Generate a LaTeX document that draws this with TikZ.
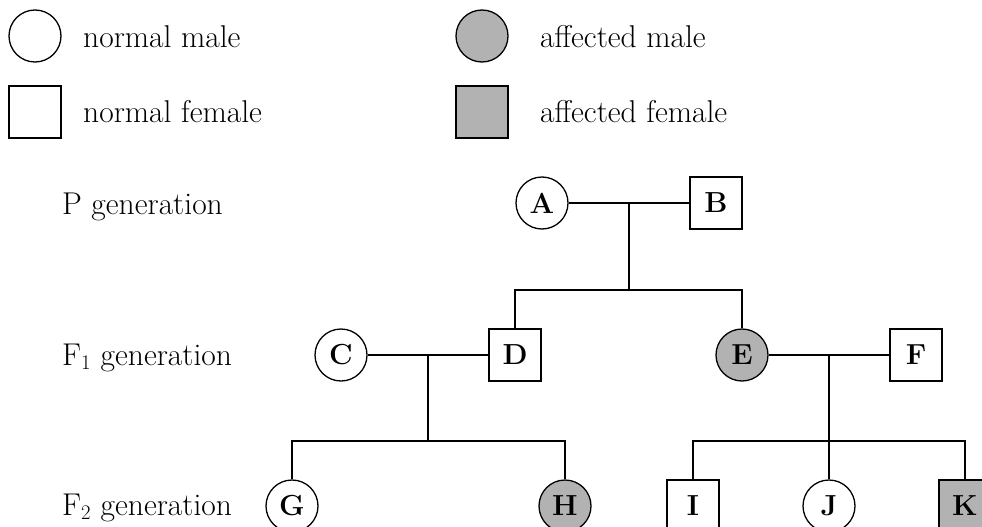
\documentclass[tikz,border=0pt]{standalone}
\begin{document}
\begin{tikzpicture}[x=1pt,y=-1pt,
  every node/.style={font=\fontsize{31.5}{36}\selectfont},
  male/.style={circle,draw,line width=1.3pt,minimum size=52pt,inner sep=0pt,font=\fontsize{29}{34}\selectfont\bfseries},
  female/.style={rectangle,draw,line width=1.3pt,minimum size=52pt,inner sep=0pt,font=\fontsize{29}{34}\selectfont\bfseries},
  aff/.style={fill=affgray},
  lbl/.style={anchor=base west,inner sep=0pt},
  link/.style={line width=1.3pt}]
\definecolor{affgray}{RGB}{178,178,178}
\useasboundingbox (0,0) rectangle (982,527);
\clip (0,0) rectangle (982,527);
% legend
\node[male] (lm) at (35,36) {};
\node[lbl] (lmt) at (83,48) {normal male};
\node[female] (lf) at (35,112) {};
\node[lbl] (lft) at (83,122) {normal female};
\node[male,aff] (lam) at (482,36) {};
\node[lbl] (lamt) at (540,48) {affected male};
\node[female,aff] (laf) at (482,112) {};
\node[lbl] (laft) at (540,122) {affected female};
% generation labels
\node[lbl] (pg) at (62,214) {P generation};
\node[lbl] (f1) at (62,365) {F$_1$ generation};
\node[lbl] (f2) at (62,515) {F$_2$ generation};
% pedigree
\node[male] (A) at (542,203) {A};
\node[female] (B) at (716,203) {B};
\node[male] (C) at (341,355) {C};
\node[female] (D) at (515,355) {D};
\node[male,aff] (E) at (742,355) {E};
\node[female] (F) at (916,355) {F};
\node[male] (G) at (292,506) {G};
\node[male,aff] (H) at (565,506) {H};
\node[female] (I) at (693,506) {I};
\node[male] (J) at (829,506) {J};
\node[female,aff] (K) at (965,506) {K};
% connector points
\coordinate (ab) at (629,203);
\coordinate (abk) at (629,290);
\coordinate (abl) at (515,290);
\coordinate (abr) at (742,290);
\coordinate (cd) at (428,355);
\coordinate (cdk) at (428,441);
\coordinate (cdl) at (292,441);
\coordinate (cdr) at (565,441);
\coordinate (ef) at (829,355);
\coordinate (efl) at (693,441);
\coordinate (efr) at (965,441);
\draw[link] (A) -- (B);
\draw[link] (ab) -- (abk);
\draw[link] (D.north) -- (abl) -- (abr) -- (E.north);
\draw[link] (C) -- (D);
\draw[link] (cd) -- (cdk);
\draw[link] (G.north) -- (cdl) -- (cdr) -- (H.north);
\draw[link] (E) -- (F);
\draw[link] (ef) -- (J.north);
\draw[link] (I.north) -- (efl) -- (efr) -- (K.north);
\end{tikzpicture}
\end{document}
